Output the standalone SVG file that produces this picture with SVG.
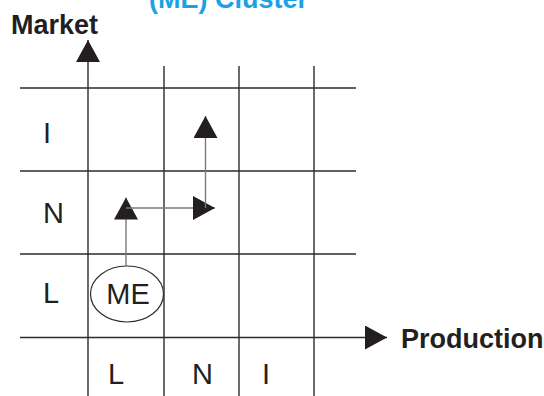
<svg xmlns="http://www.w3.org/2000/svg" width="544" height="396" viewBox="0 0 544 396">
  <style>
    .grid { stroke: #2b2b2b; stroke-width: 1.4; fill: none; }
    .conn { stroke: #7a7a7a; stroke-width: 1.4; fill: none; }
    .bold { font-family: "Liberation Sans", Arial, sans-serif; font-weight: bold; font-size: 27px; fill: #231f20; }
    .lbl { font-family: "Liberation Sans", Arial, sans-serif; font-size: 29px; fill: #231f20; }
    .title { font-family: "Liberation Sans", Arial, sans-serif; font-weight: bold; font-size: 27px; fill: #1ba1e6; }
  </style>
  <defs>
    <marker id="arrow" viewBox="0 0 22 24" refX="22" refY="12" markerWidth="22" markerHeight="24" markerUnits="userSpaceOnUse" orient="auto">
      <path d="M0,0 L22,12 L0,24 Z" fill="#231f20"/>
    </marker>
  </defs>
  <rect width="544" height="396" fill="#ffffff"/>
  <text id="title" class="title" x="228.5" y="8" text-anchor="middle">(ME) Cluster</text>

  <g id="axes">
    <line class="grid" x1="88" y1="396" x2="88" y2="40" marker-end="url(#arrow)"/>
    <line class="grid" x1="20" y1="337.5" x2="387" y2="337.5" marker-end="url(#arrow)"/>
    <text id="market-label" class="bold" x="11" y="34">Market</text>
    <text id="production-label" class="bold" x="401" y="348">Production</text>
  </g>

  <g id="grid">
    <line class="grid" x1="20" y1="88" x2="356" y2="88"/>
    <line class="grid" x1="20" y1="171" x2="356" y2="171"/>
    <line class="grid" x1="20" y1="254" x2="356" y2="254"/>
    <line class="grid" x1="164" y1="66" x2="164" y2="396"/>
    <line class="grid" x1="239" y1="66" x2="239" y2="396"/>
    <line class="grid" x1="314" y1="66" x2="314" y2="396"/>
  </g>

  <g id="row-labels">
    <text class="lbl" x="43" y="143">I</text>
    <text class="lbl" x="43" y="223">N</text>
    <text class="lbl" x="43" y="303">L</text>
  </g>
  <g id="col-labels">
    <text class="lbl" x="108" y="384">L</text>
    <text class="lbl" x="192" y="384">N</text>
    <text class="lbl" x="262" y="384">I</text>
  </g>

  <g id="node-ME">
    <ellipse cx="127" cy="294" rx="36.5" ry="28" fill="#ffffff" stroke="#2b2b2b" stroke-width="1.2"/>
    <text class="lbl" x="128" y="303.5" text-anchor="middle">ME</text>
  </g>

  <g id="connectors">
    <line class="conn" x1="126" y1="266" x2="126" y2="197.5" marker-end="url(#arrow)"/>
    <line class="conn" x1="126" y1="208" x2="215" y2="208" marker-end="url(#arrow)"/>
    <line class="conn" x1="205.5" y1="208" x2="205.5" y2="116" marker-end="url(#arrow)"/>
  </g>
</svg>
